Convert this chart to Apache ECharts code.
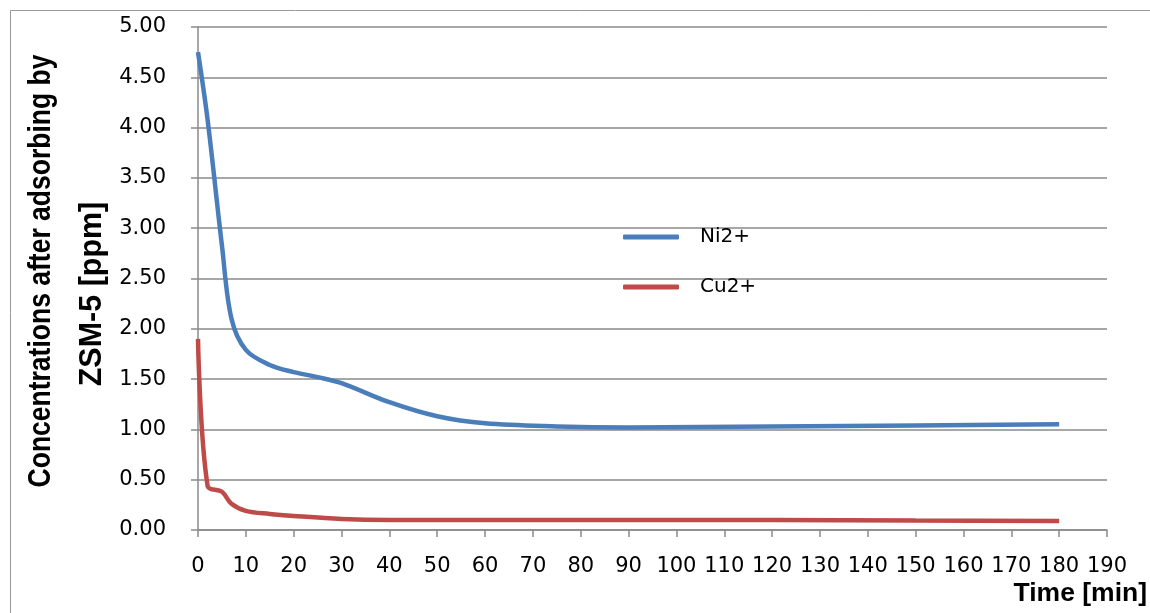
<!DOCTYPE html>
<html><head><meta charset="utf-8">
<script src="https://cdn.jsdelivr.net/npm/echarts@6/dist/echarts.min.js"></script>
<style>html,body{margin:0;padding:0;background:#fff}#c{width:1150px;height:613px}</style>
</head><body><div id="c"></div>
<script>
const niTime = [0, 2, 5, 7, 10, 15, 20, 25, 30, 40, 50, 60, 75, 90, 120, 150, 180];
const niConc = [4.75, 4.08, 2.83, 2.10, 1.79, 1.64, 1.57, 1.52, 1.46, 1.27, 1.13, 1.06, 1.03, 1.02, 1.03, 1.04, 1.05];
const cuTime = [0, 2, 5, 7, 10, 15, 20, 30, 40, 60, 90, 120, 150, 180];
const cuConc = [1.90, 0.44, 0.38, 0.26, 0.19, 0.16, 0.14, 0.11, 0.10, 0.10, 0.10, 0.10, 0.095, 0.09];
const seriesNames = ['Ni2+', 'Cu2+'];
const yTitleLines = ['Concentrations after adsorbing by', 'ZSM-5 [ppm]'];
const xTitle = 'Time [min]';

const chart = echarts.init(document.getElementById('c'), null, {renderer: 'canvas'});
const tickFont = '"DejaVu Sans", sans-serif';
const titleFont = '"Liberation Sans", Arial, sans-serif';
const gridColor = '#8a8a8a';
chart.setOption({
  animation: false,
  backgroundColor: '#fff',
  grid: {left: 198, right: 43, top: 27, bottom: 83, containLabel: false},
  xAxis: {
    type: 'value', min: 0, max: 190, interval: 10,
    axisLine: {show: true, onZero: false, lineStyle: {color: gridColor, width: 1.5}},
    axisTick: {show: true, length: 7, lineStyle: {color: gridColor, width: 1.5}},
    splitLine: {show: false},
    axisLabel: {color: '#000', fontSize: 21, fontFamily: tickFont, margin: 26}
  },
  yAxis: {
    type: 'value', min: 0, max: 5, interval: 0.5,
    axisLine: {show: true, lineStyle: {color: gridColor, width: 1.5}},
    axisTick: {show: true, length: 7, lineStyle: {color: gridColor, width: 1.5}},
    splitLine: {show: true, lineStyle: {color: gridColor, width: 1.5}},
    axisLabel: {color: '#000', fontSize: 21, fontFamily: tickFont, margin: 32,
      formatter: v => v.toFixed(2)}
  },
  legend: {
    orient: 'vertical', left: 623, top: 227, padding: 0, itemWidth: 56, itemHeight: 5, itemGap: 30,
    icon: 'roundRect',
    textStyle: {color: '#000', fontSize: 20, fontFamily: tickFont, padding: [0, 0, 0, 16]},
    data: seriesNames
  },
  series: [
    {name: seriesNames[0], type: 'line', data: niTime.map((t, i) => [t, niConc[i]]),
     smooth: 0.35, showSymbol: false, symbol: 'none',
     lineStyle: {color: '#4a7ebb', width: 4.5}, itemStyle: {color: '#4a7ebb'}},
    {name: seriesNames[1], type: 'line', data: cuTime.map((t, i) => [t, cuConc[i]]),
     smooth: 0.35, showSymbol: false, symbol: 'none',
     lineStyle: {color: '#be4b48', width: 4.5}, itemStyle: {color: '#be4b48'}}
  ],
  graphic: [
    {type: 'rect', shape: {x: 10.5, y: 10.5, width: 1200, height: 700}, style: {fill: 'none', stroke: '#999', lineWidth: 1}, silent: true},
    {type: 'text', x: 42, y: 271, rotation: Math.PI / 2, scaleX: 1, scaleY: 1.15,
     style: {text: yTitleLines[0], fontSize: 26.5, fontFamily: titleFont, fontWeight: 'bold', fill: '#000',
       align: 'center', verticalAlign: 'middle'}},
    {type: 'text', x: 93, y: 294, rotation: Math.PI / 2, scaleX: 1.15, scaleY: 1.15,
     style: {text: yTitleLines[1], fontSize: 26.5, fontFamily: titleFont, fontWeight: 'bold', fill: '#000',
       align: 'center', verticalAlign: 'middle'}},
    {type: 'text', x: 1147, y: 594, scaleX: 1.06,
     style: {text: xTitle, fontSize: 25, fontFamily: titleFont, fontWeight: 'bold', fill: '#000',
       align: 'right', verticalAlign: 'middle'}}
  ]
});
</script></body></html>
